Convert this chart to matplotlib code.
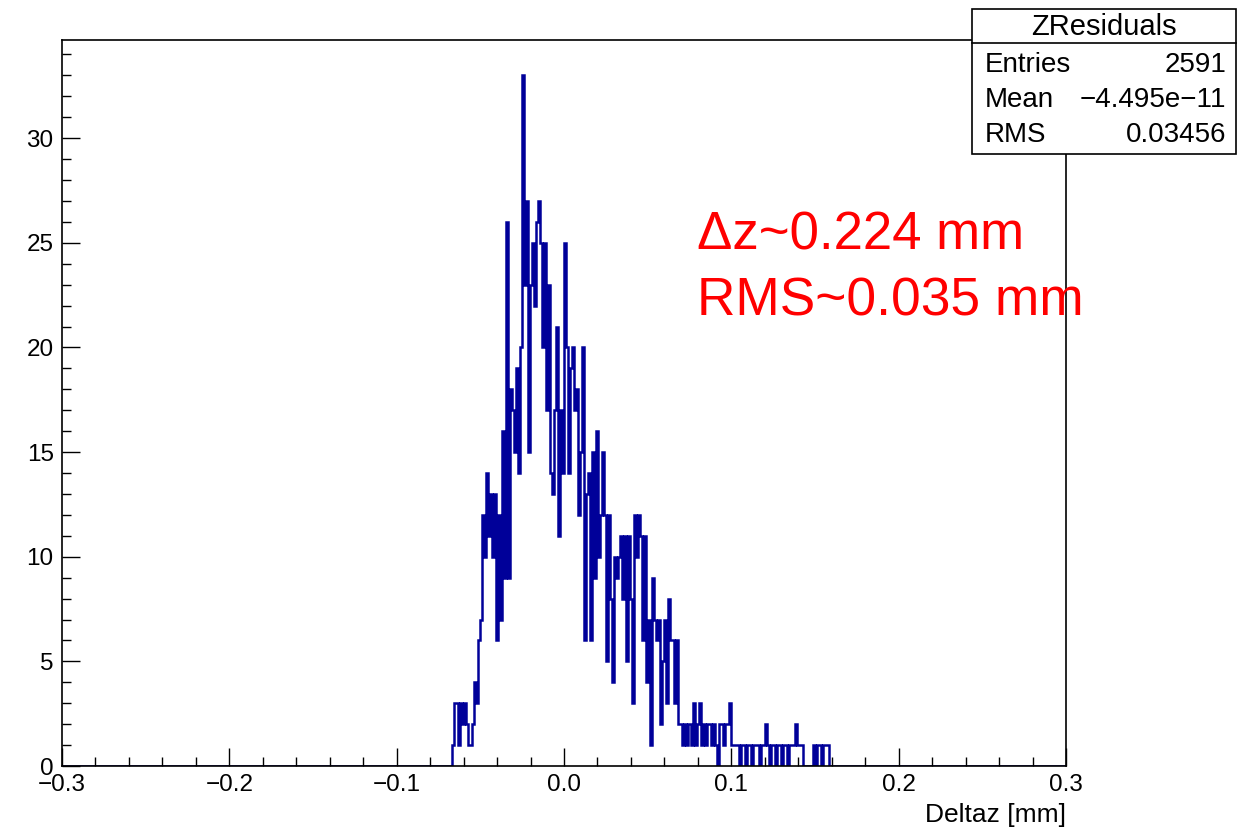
import numpy as np
import matplotlib.pyplot as plt
from matplotlib.patches import Rectangle
from matplotlib.lines import Line2D
from matplotlib.ticker import MultipleLocator

plt.rcParams['font.family'] = ['Liberation Sans', 'DejaVu Sans']

W, H = 1237, 830

# histogramme ZResiduals : 500 bins sur [-0.3, 0.3]
n_bins = 500
x_min, x_max = -0.3, 0.3
first_bin = 194  # premier bin non vide
counts_read = [
    1, 3, 3, 1, 3, 2, 3, 2, 1, 1,
    2, 4, 3, 6, 7, 12, 10, 14, 11, 13,
    10, 13, 6, 12, 7, 16, 9, 26, 9, 18,
    17, 15, 19, 14, 20, 33, 23, 27, 15, 23,
    25, 22, 26, 27, 25, 20, 25, 17, 23, 14,
    13, 17, 21, 11, 17, 14, 25, 20, 14, 19,
    20, 17, 18, 12, 15, 20, 6, 13, 14, 6,
    15, 9, 16, 10, 12, 15, 12, 5, 12, 8,
    4, 10, 9, 10, 11, 8, 11, 5, 11, 8,
    3, 12, 10, 12, 11, 6, 11, 4, 7, 1,
    9, 7, 6, 7, 2, 5, 7, 3, 8, 6,
    6, 3, 6, 2, 2, 1, 2, 1, 2, 1,
    3, 1, 2, 3, 1, 2, 1, 2, 2, 1,
    2, 1, 0, 2, 2, 1, 2, 2, 3, 1,
    1, 1, 1, 0, 1, 1, 0, 1, 1, 0,
    1, 1, 1, 0, 1, 1, 2, 1, 0, 1,
    1, 0, 1, 1, 0, 1, 1, 0, 1, 1,
    1, 2, 1, 1, 1, 0, 0, 0, 0, 0,
    1, 0, 1, 1, 0, 1, 1, 1,
]

stat_title = "ZResiduals"
stat_names = ["Entries", "Mean", "RMS"]
stat_values = ["2591", "\u22124.495e\u221211", "0.03456"]

note_lines = ["\u0394z~0.224 mm", "RMS~0.035 mm"]

counts = np.zeros(n_bins)
counts[first_bin:first_bin + len(counts_read)] = counts_read
edges = np.linspace(x_min, x_max, n_bins + 1)


def fx(px):
    return px / W


def fy(py):
    return 1 - py / H


fig = plt.figure(figsize=(W / 100, H / 100), dpi=100)
ax = fig.add_axes([fx(62), fy(766), (1066 - 62) / W, (766 - 40) / H])

ax.stairs(counts, edges, color='#000099', lw=1.8)
ax.set_xlim(x_min, x_max)
ax.set_ylim(0, 34.69)

ax.xaxis.set_major_locator(MultipleLocator(0.1))
ax.xaxis.set_minor_locator(MultipleLocator(0.02))
ax.yaxis.set_major_locator(MultipleLocator(5))
ax.yaxis.set_minor_locator(MultipleLocator(1))
ax.tick_params(which='both', direction='in', top=False, right=False, width=1)
ax.tick_params(which='major', length=13, labelsize=17.5, pad=6)
ax.tick_params(which='minor', length=6.5)
for s in ax.spines.values():
    s.set_linewidth(1.2)

fig.text(fx(1066), fy(815), "Deltaz [mm]", ha='right', va='center', fontsize=19)

# texte rouge
fig.text(fx(697), fy(250), note_lines[0], color='red', fontsize=38, va='baseline')
fig.text(fx(697), fy(315), note_lines[1], color='red', fontsize=38.3, va='baseline')

# boite de stats
box = Rectangle((fx(972), fy(154)), (1236 - 972) / W, (154 - 9) / H,
                transform=fig.transFigure, facecolor='white', edgecolor='black', lw=1.2)
fig.add_artist(box)
fig.add_artist(Line2D([fx(972), fx(1236)], [fy(43), fy(43)], transform=fig.transFigure,
                      color='black', lw=1.2))
fig.text(fx(1104), fy(27), stat_title, ha='center', va='center', fontsize=21)
for i, (n, v) in enumerate(zip(stat_names, stat_values)):
    yy = fy(65 + 35 * i)
    fig.text(fx(985), yy, n, ha='left', va='center', fontsize=20)
    fig.text(fx(1226), yy, v, ha='right', va='center', fontsize=20)

fig.savefig('out.png', dpi=100)
